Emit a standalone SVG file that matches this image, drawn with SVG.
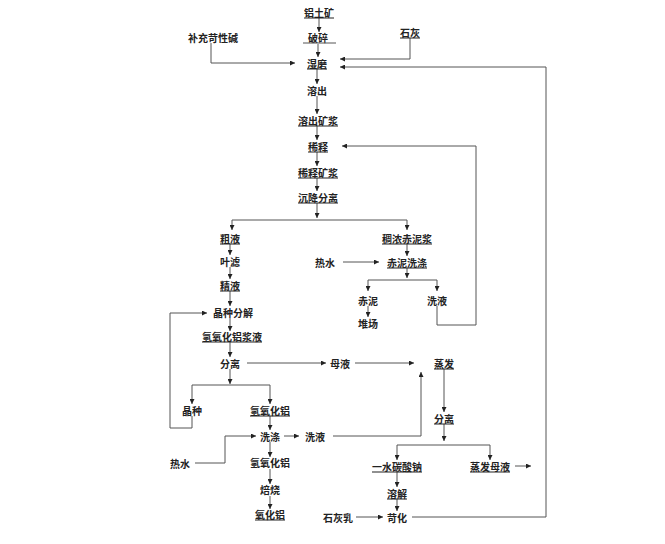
<svg xmlns="http://www.w3.org/2000/svg" width="665" height="544" viewBox="0 0 665 544">
<style>
text{font-family:"Noto Sans CJK SC","Noto Sans",sans-serif;font-size:10px;font-weight:bold;fill:#222;text-anchor:middle;dominant-baseline:central}
.u{text-decoration:underline}
.c{fill:none;stroke:#555;stroke-width:1}
.a{marker-end:url(#ah)}
</style>
<defs>
<marker id="ah" markerUnits="userSpaceOnUse" markerWidth="5" markerHeight="5" refX="5" refY="2.5" orient="auto">
<path d="M0,0 L5,2.5 L0,5 z" fill="#222"/>
</marker>
</defs>
<rect width="665" height="544" fill="#fff"/>
<g id="connectors">
<path class="c a" d="M319,18 V32"/>
<path class="c a" d="M318,44 V57"/>
<path class="c a" d="M317,69 V84"/>
<path class="c a" d="M317,96 V114"/>
<path class="c a" d="M317,126 V140"/>
<path class="c a" d="M317,152 V166"/>
<path class="c a" d="M317,178 V191"/>
<path class="c a" d="M317,203 V218"/>
<path class="c a" d="M317,220 H232 V230"/>
<path class="c a" d="M317,220 H407 V230"/>
<path class="c a" d="M211,43 V63 H295"/>
<path class="c a" d="M410,38 V59 H340"/>
<path class="c a" d="M412,517 H546 V67 H340"/>
<path class="c a" d="M230,244 V255"/>
<path class="c a" d="M230,267 V279"/>
<path class="c a" d="M230,291 V306"/>
<path class="c a" d="M230,318 V331"/>
<path class="c a" d="M230,342 V357"/>
<path class="c a" d="M230,369 V384"/>
<path class="c a" d="M230,385 H192 V404"/>
<path class="c a" d="M230,385 H270 V404"/>
<path class="c a" d="M192,416 V428 H170 V313 H207"/>
<path class="c a" d="M247,363 H326"/>
<path class="c a" d="M355,363 H414"/>
<path class="c a" d="M444,369 V412"/>
<path class="c a" d="M444,424 V441"/>
<path class="c a" d="M444,445 H397 V460"/>
<path class="c a" d="M444,445 H490 V460"/>
<path class="c a" d="M515,466 H531"/>
<path class="c a" d="M397,472 V487"/>
<path class="c a" d="M397,499 V511"/>
<path class="c a" d="M356,517 H383"/>
<path class="c a" d="M270,416 V430"/>
<path class="c a" d="M195,463 H225 V436 H256"/>
<path class="c a" d="M284,436 H299"/>
<path class="c a" d="M333,436 H421 V372"/>
<path class="c a" d="M270,442 V457"/>
<path class="c a" d="M270,469 V484"/>
<path class="c a" d="M270,496 V509"/>
<path class="c a" d="M407,244 V256"/>
<path class="c a" d="M343,262 H379"/>
<path class="c a" d="M407,268 V278"/>
<path class="c a" d="M407,280 H368 V291"/>
<path class="c a" d="M407,280 H437 V291"/>
<path class="c a" d="M368,306 V317"/>
<path class="c a" d="M437,306 V325 H476 V146 H342"/>
</g>
<g id="n1"><text class="u" x="319" y="12">铝土矿</text></g>
<g id="n2"><text x="318" y="37">破碎</text><line x1="303" y1="43" x2="336" y2="43" stroke="#555"/></g>
<g id="n3"><text x="213" y="37">补充苛性碱</text></g>
<g id="n4"><text class="u" x="410" y="32">石灰</text></g>
<g id="n5"><text class="u" x="317" y="63">湿磨</text></g>
<g id="n6"><text x="317" y="90">溶出</text></g>
<g id="n7"><text class="u" x="318" y="120">溶出矿浆</text></g>
<g id="n8"><text class="u" x="318" y="146">稀释</text></g>
<g id="n9"><text class="u" x="318" y="172">稀释矿浆</text></g>
<g id="n10"><text class="u" x="318" y="197">沉降分离</text></g>
<g id="n11"><text class="u" x="230" y="238">粗液</text></g>
<g id="n12"><text x="230" y="261">叶滤</text></g>
<g id="n13"><text class="u" x="230" y="285">精液</text></g>
<g id="n14"><text x="233" y="312">晶种分解</text></g>
<g id="n15"><text class="u" x="232" y="336">氢氧化铝浆液</text></g>
<g id="n16"><text x="230" y="363">分离</text></g>
<g id="n17"><text x="192" y="410">晶种</text></g>
<g id="n18"><text class="u" x="270" y="410">氢氧化铝</text></g>
<g id="n19"><text x="270" y="436">洗涤</text></g>
<g id="n20"><text x="180" y="463">热水</text></g>
<g id="n21"><text x="315" y="436">洗液</text></g>
<g id="n22"><text x="270" y="462">氢氧化铝</text></g>
<g id="n23"><text x="270" y="489">焙烧</text></g>
<g id="n24"><text class="u" x="270" y="514">氧化铝</text></g>
<g id="n25"><text x="340" y="363">母液</text></g>
<g id="n26"><text class="u" x="444" y="363">蒸发</text></g>
<g id="n27"><text class="u" x="444" y="418">分离</text></g>
<g id="n28"><text class="u" x="397" y="466">一水碳酸钠</text></g>
<g id="n29"><text class="u" x="490" y="466">蒸发母液</text></g>
<g id="n30"><text class="u" x="397" y="493">溶解</text></g>
<g id="n31"><text x="397" y="517">苛化</text></g>
<g id="n32"><text x="338" y="517">石灰乳</text></g>
<g id="n33"><text class="u" x="407" y="238">稠浓赤泥浆</text></g>
<g id="n34"><text x="325" y="262">热水</text></g>
<g id="n35"><text class="u" x="407" y="262">赤泥洗涤</text></g>
<g id="n36"><text x="368" y="300">赤泥</text></g>
<g id="n37"><text x="437" y="300">洗液</text></g>
<g id="n38"><text x="368" y="323">堆场</text></g>
</svg>
